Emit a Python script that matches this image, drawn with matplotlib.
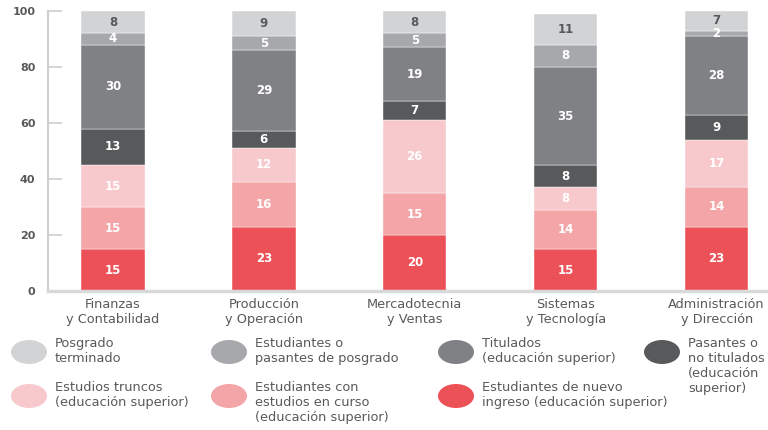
import matplotlib
matplotlib.use("Agg")
import matplotlib.pyplot as plt
from matplotlib.patches import Ellipse
import numpy as np

# data (percent per area, bottom -> top)
areas = ["Finanzas\ny Contabilidad", "Producción\ny Operación", "Mercadotecnia\ny Ventas",
         "Sistemas\ny Tecnología", "Administración\ny Dirección"]
nuevo_ingreso = [15, 23, 20, 15, 23]
en_curso = [15, 16, 15, 14, 14]
truncos = [15, 12, 26, 8, 17]
pasantes = [13, 6, 7, 8, 9]
titulados = [30, 29, 19, 35, 28]
est_posgrado = [4, 5, 5, 8, 2]
posgrado_term = [8, 9, 8, 11, 7]

series = [nuevo_ingreso, en_curso, truncos, pasantes, titulados, est_posgrado, posgrado_term]
colors = ["#ec5157", "#f4a5a8", "#f8c9cc", "#58595b", "#808184", "#a7a8ab", "#d2d3d5"]
txt_colors = ["white", "white", "white", "white", "white", "white", "#58595b"]

legend_labels = ["Posgrado\nterminado", "Estudiantes o\npasantes de posgrado",
                 "Titulados\n(educación superior)", "Pasantes o\nno titulados\n(educación\nsuperior)",
                 "Estudios truncos\n(educación superior)", "Estudiantes con\nestudios en curso\n(educación superior)",
                 "Estudiantes de nuevo\ningreso (educación superior)"]
legend_colors = ["#d2d3d5", "#a7a8ab", "#808184", "#58595b", "#f8c9cc", "#f4a5a8", "#ec5157"]

plt.rcParams['font.family'] = ['DejaVu Sans']
grey = "#58595b"

fig = plt.figure(figsize=(7.68, 4.30), dpi=100)
ax = fig.add_axes([48 / 768, 1 - 291 / 430, 720 / 768, 280 / 430])

x = np.arange(len(areas))
bottom = np.zeros(len(areas))
for vals, c, tc in zip(series, colors, txt_colors):
    vals = np.array(vals, dtype=float)
    ax.bar(x, vals, width=0.42, bottom=bottom, color=c, edgecolor="white", linewidth=0.3, zorder=2)
    for xi, b, v in zip(x, bottom, vals):
        ax.text(xi, b + v / 2, str(int(v)), ha="center", va="center", fontsize=8.5,
                fontweight="bold", color=tc, zorder=3)
    bottom += vals

ax.set_xlim(-0.43, 4.34)
ax.set_ylim(0, 100)
ax.set_yticks([0, 20, 40, 60, 80, 100])
ax.set_xticks(x)
ax.set_xticklabels(areas, fontsize=9.3, color=grey, linespacing=1.25)
ax.tick_params(axis="x", length=0, pad=5)
ax.tick_params(axis="y", direction="in", length=10, width=1.2, color="#cfcfcf",
               labelsize=8, labelcolor=grey, pad=9)
for lab in ax.get_yticklabels():
    lab.set_fontweight("bold")
for s in ["top", "right"]:
    ax.spines[s].set_visible(False)
ax.spines["left"].set_color("#cfcfcf")
ax.spines["left"].set_linewidth(1.5)
ax.spines["bottom"].set_color("#d9d9d9")
ax.spines["bottom"].set_linewidth(2.5)

# legend drawn in pixel coordinates
lg = fig.add_axes([0, 0, 1, 1], zorder=-1)
lg.set_xlim(0, 768)
lg.set_ylim(430, 0)
lg.axis("off")
col_x = [29, 229, 456, 662]
row_y = [352, 396]
pos = [(0, 0), (1, 0), (2, 0), (3, 0), (0, 1), (1, 1), (2, 1)]
for (ci, ri), lab, c in zip(pos, legend_labels, legend_colors):
    cx, cy = col_x[ci], row_y[ri]
    lg.add_patch(Ellipse((cx, cy), 36, 24, color=c, lw=0))
    lg.text(cx + 26, cy - 15, lab, ha="left", va="top", fontsize=9.3, color=grey, linespacing=1.2)

fig.savefig("out.png", dpi=100)
